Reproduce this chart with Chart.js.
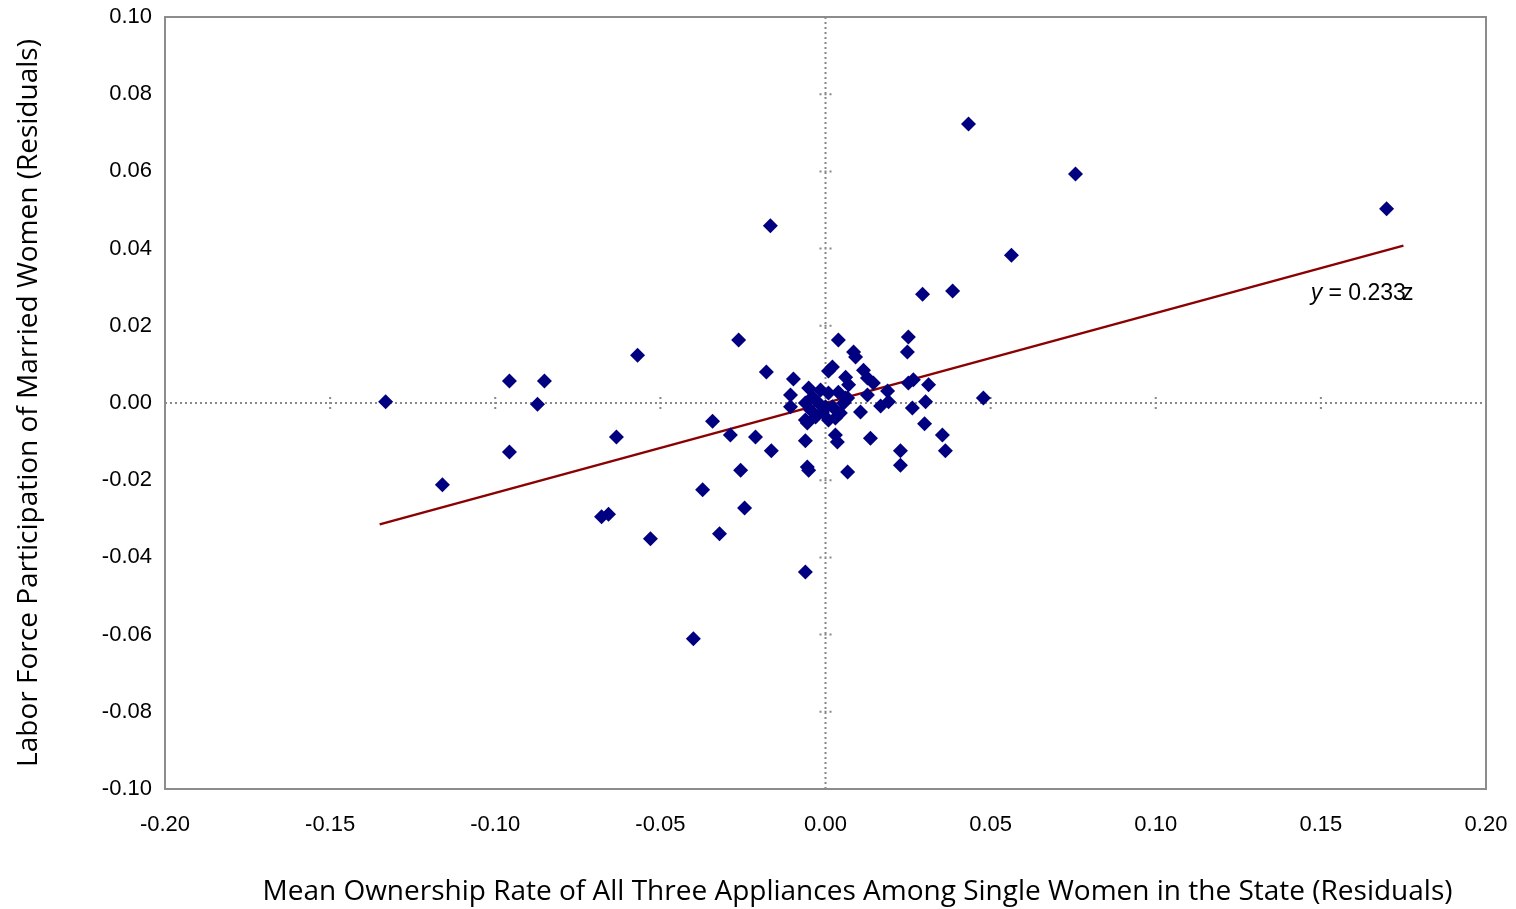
<!DOCTYPE html>
<html>
<head>
<meta charset="utf-8">
<script src="https://cdn.jsdelivr.net/npm/chart.js@4"></script>
<style>
  html, body { margin: 0; padding: 0; background: #fff; }
  #wrap { width: 1516px; height: 909px; }
</style>
</head>
<body>
<div id="wrap"><canvas id="chart"></canvas></div>
<script>
// state residuals
const xValues = [
  -0.1332, -0.1160, -0.0957, -0.0851, -0.0872, -0.0957, -0.0569, -0.0633, -0.0678, -0.0657,
  -0.0530, -0.0400, -0.0372, -0.0342, -0.0321, -0.0288, -0.0263, -0.0257, -0.0245, -0.0212,
  -0.0179, -0.0167, -0.0164, -0.0061, -0.0097, -0.0106, -0.0106, -0.0051, 0.0009, 0.0039,
  0.0061, -0.0061, -0.0030, 0.0009, 0.0045, 0.0055, -0.0021, -0.0061, 0.0000, -0.0039,
  -0.0009, 0.0021, -0.0015, -0.0045, 0.0021, 0.0009, 0.0061, 0.0070, 0.0067, 0.0115,
  0.0127, 0.0145, 0.0127, 0.0188, 0.0167, 0.0191, 0.0106, 0.0136, 0.0030, 0.0036,
  0.0030, -0.0055, -0.0061, -0.0055, -0.0051, 0.0067, 0.0039, 0.0085, 0.0091, 0.0251,
  0.0248, 0.0251, 0.0266, 0.0312, 0.0263, 0.0303, 0.0300, 0.0354, 0.0363, 0.0227,
  0.0227, 0.0294, 0.0385, 0.0433, 0.0478, 0.0563, 0.0757, 0.1699
];
const yValues = [
  0.0003, -0.0212, 0.0057, 0.0057, -0.0003, -0.0127, 0.0124, -0.0088, -0.0295, -0.0288,
  -0.0352, -0.0611, -0.0225, -0.0047, -0.0339, -0.0083, 0.0163, -0.0174, -0.0272, -0.0088,
  0.0080, 0.0459, -0.0124, -0.0438, 0.0062, 0.0021, -0.0010, 0.0039, 0.0026, 0.0028,
  0.0013, -0.0044, -0.0036, -0.0044, -0.0026, 0.0000, 0.0000, 0.0000, -0.0010, 0.0016,
  -0.0023, -0.0010, 0.0034, -0.0018, 0.0093, 0.0083, 0.0067, 0.0047, 0.0013, 0.0085,
  0.0065, 0.0052, 0.0021, 0.0031, -0.0008, 0.0003, -0.0023, -0.0091, -0.0083, -0.0101,
  -0.0039, -0.0052, -0.0098, -0.0166, -0.0174, -0.0179, 0.0163, 0.0132, 0.0119, 0.0171,
  0.0132, 0.0052, 0.0060, 0.0047, -0.0013, 0.0003, -0.0054, -0.0083, -0.0124, -0.0124,
  -0.0161, 0.0282, 0.0290, 0.0723, 0.0013, 0.0383, 0.0593, 0.0503
];
const trendSlope = 0.233;
const trendRange = [-0.135, 0.175];
const trendLabel = ['y', ' = 0.233', 'z'];
const xTitle = 'Mean Ownership Rate of All Three Appliances Among Single Women in the State (Residuals)';
const yTitle = 'Labor Force Participation of Married Women (Residuals)';

const points = xValues.map((x, i) => ({ x: x, y: yValues[i] }));
const trend = trendRange.map(x => ({ x: x, y: trendSlope * x }));

const frame = {
  id: 'frame',
  beforeDatasetsDraw(chart) {
    const { ctx, chartArea: a, scales: { x, y } } = chart;
    const x0 = x.getPixelForValue(0), y0 = y.getPixelForValue(0);
    ctx.save();
    ctx.strokeStyle = '#888';
    ctx.lineWidth = 2;
    ctx.setLineDash([2, 3]);
    ctx.beginPath();
    ctx.moveTo(x0, a.top); ctx.lineTo(x0, a.bottom);
    ctx.moveTo(a.left, y0); ctx.lineTo(a.right, y0);
    y.ticks.forEach(t => {
      const py = y.getPixelForValue(t.value);
      ctx.moveTo(x0 - 6, py); ctx.lineTo(x0 + 6, py);
    });
    x.ticks.forEach(t => {
      const px = x.getPixelForValue(t.value);
      ctx.moveTo(px, y0 - 6); ctx.lineTo(px, y0 + 6);
    });
    ctx.stroke();
    ctx.setLineDash([]);
    ctx.strokeStyle = '#8c8c8c';
    ctx.lineWidth = 2;
    ctx.strokeRect(a.left, a.top, a.right - a.left, a.bottom - a.top);
    ctx.restore();
  },
  afterDatasetsDraw(chart) {
    const { ctx, chartArea: a, scales: { x, y } } = chart;
    ctx.save();
    ctx.fillStyle = '#000';
    ctx.textBaseline = 'middle';
    let px = x.getPixelForValue(0.1469);
    const py = y.getPixelForValue(0.0284);
    ctx.font = 'italic 23px "Liberation Sans", Arial, sans-serif';
    ctx.fillText(trendLabel[0], px, py);
    px += ctx.measureText(trendLabel[0]).width;
    ctx.font = '23px "Liberation Sans", Arial, sans-serif';
    ctx.fillText(trendLabel[1], px, py);
    px += ctx.measureText(trendLabel[1]).width - 4;
    ctx.fillText(trendLabel[2], px, py);

    // x axis title sits a little right of the plot centre
    ctx.font = '28px "Open Sans", sans-serif';
    ctx.textAlign = 'center';
    ctx.fillText(xTitle, (a.left + a.right) / 2 + 32, 892);
    ctx.restore();
  }
};

new Chart(document.getElementById('chart'), {
  type: 'scatter',
  data: {
    datasets: [
      {
        data: points,
        pointStyle: 'rectRot',
        pointRadius: 7.5,
        pointHoverRadius: 7.5,
        backgroundColor: '#000080',
        borderColor: '#000080',
        borderWidth: 0
      },
      {
        type: 'line',
        data: trend,
        borderColor: '#8b0000',
        borderWidth: 2.5,
        pointRadius: 0,
        fill: false
      }
    ]
  },
  options: {
    responsive: true,
    maintainAspectRatio: false,
    animation: false,
    layout: { padding: { left: 8, right: 30, top: 17, bottom: 0 } },
    plugins: { legend: { display: false }, tooltip: { enabled: false } },
    scales: {
      x: {
        type: 'linear',
        min: -0.2,
        max: 0.2,
        afterFit: s => { s.height = 120; s.paddingLeft = 0; s.paddingRight = 0; },
        grid: { display: false, drawTicks: false },
        border: { display: false },
        ticks: {
          stepSize: 0.05,
          padding: 23,
          color: '#000',
          font: { family: '"Liberation Sans", Arial, sans-serif', size: 22 },
          callback: v => v.toFixed(2)
        }
      },
      y: {
        type: 'linear',
        min: -0.1,
        max: 0.1,
        afterFit: s => { s.width = 157; s.paddingTop = 0; s.paddingBottom = 0; },
        grid: { display: false, drawTicks: false },
        border: { display: false },
        ticks: {
          stepSize: 0.02,
          padding: 13,
          color: '#000',
          font: { family: '"Liberation Sans", Arial, sans-serif', size: 22 },
          callback: v => v.toFixed(2)
        },
        title: {
          display: true,
          text: yTitle,
          color: '#000',
          font: { family: '"Open Sans", sans-serif', size: 28 },
          padding: { bottom: 0 }
        }
      }
    }
  },
  plugins: [frame]
});
</script>
</body>
</html>
